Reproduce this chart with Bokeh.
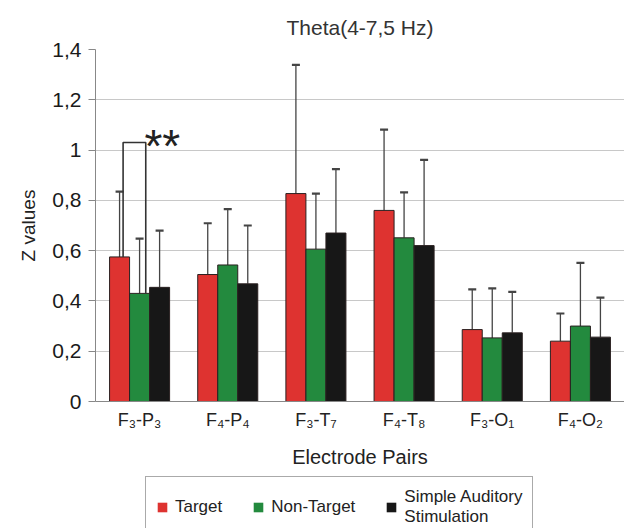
from bokeh.plotting import figure
from bokeh.layouts import column
from bokeh.models import (ColumnDataSource, FactorRange, Range1d, Whisker, TeeHead,
                          FixedTicker, CustomJSTickFormatter, Legend, LegendItem)
from bokeh.transform import dodge
from bokeh.core.properties import value
from bokeh.embed import file_html
from bokeh.resources import INLINE

# ---------------- data ----------------
pairs = ["F₃-P₃", "F₄-P₄", "F₃-T₇", "F₄-T₈", "F₃-O₁", "F₄-O₂"]
series_names = ["Target", "Non-Target", "Simple Auditory\nStimulation"]

target = [0.575, 0.505, 0.827, 0.760, 0.286, 0.240]
target_sd = [0.260, 0.204, 0.512, 0.321, 0.160, 0.110]
nontarget = [0.430, 0.543, 0.606, 0.651, 0.253, 0.300]
nontarget_sd = [0.218, 0.222, 0.221, 0.181, 0.197, 0.251]
simple = [0.454, 0.468, 0.670, 0.620, 0.273, 0.256]
simple_sd = [0.226, 0.232, 0.254, 0.341, 0.163, 0.157]

y_ticks = [0, 0.2, 0.4, 0.6, 0.8, 1.0, 1.2, 1.4]

# significance bracket (Target vs Non-Target at F3-P3)
sig_pair = "F₃-P₃"
sig_level = 1.03
sig_label = "**"

colors = ["#de3330", "#238a3e", "#171717"]
FONT = "Liberation Sans"

# ---------------- main chart ----------------
p = figure(width=624, height=470, x_range=FactorRange(*pairs),
           y_range=Range1d(0, 1.4), output_backend="svg", toolbar_location=None,
           min_border_left=95, min_border_right=0, min_border_top=49,
           min_border_bottom=66)
p.outline_line_color = None
p.background_fill_color = "white"
p.border_fill_color = "white"

p.title.text = "Theta(4-7,5 Hz)"
p.title.align = "center"
p.title.text_font = FONT
p.title.text_font_size = "21px"
p.title.text_font_style = "normal"
p.title.text_color = "#333333"
p.title.standoff = 22

bw = 0.227
offsets = [-bw, 0.0, bw]
means = [target, nontarget, simple]
sds = [target_sd, nontarget_sd, simple_sd]

for name, col, off, m, s in zip(series_names, colors, offsets, means, sds):
    src = ColumnDataSource(dict(cat=pairs, val=m,
                                top=[a + b for a, b in zip(m, s)]))
    p.vbar(x=dodge("cat", off, range=p.x_range), top="val", width=bw,
           source=src, fill_color=col, line_color="#2a2020", line_width=1)
    w = Whisker(base=dodge("cat", off, range=p.x_range), lower="val", upper="top",
                source=src, dimension="height", line_color="#444444", line_width=1.3,
                upper_head=TeeHead(size=8, line_color="#444444", line_width=2.2),
                lower_head=None)
    p.add_layout(w)

# significance bracket
i0 = pairs.index(sig_pair)
br = ColumnDataSource(dict(
    xs=[[(sig_pair, offsets[0] + 0.04), (sig_pair, offsets[0] + 0.04),
         (sig_pair, offsets[1] + 0.07), (sig_pair, offsets[1] + 0.07)]],
    ys=[[target[i0], sig_level, sig_level, nontarget[i0]]]))
p.multi_line(xs="xs", ys="ys", source=br, line_color="#333333", line_width=1.6)
p.text(x=[(sig_pair, offsets[1] + 0.055)], y=[sig_level], text=[sig_label],
       text_font=value(FONT), text_font_size="46px",
       text_baseline="middle", text_align="left", text_color="#222222",
       y_offset=3)

# axes
p.yaxis.ticker = FixedTicker(ticks=y_ticks)
p.yaxis.formatter = CustomJSTickFormatter(
    code="return (Math.round(tick*10)/10).toString().replace('.', ',');")
p.yaxis.axis_label = "Z values"
p.yaxis.axis_label_text_font = FONT
p.yaxis.axis_label_text_font_size = "19px"
p.yaxis.axis_label_text_font_style = "normal"
p.yaxis.axis_label_text_color = "#222222"
p.yaxis.axis_label_standoff = 10
p.yaxis.major_label_text_font = FONT
p.yaxis.major_label_text_font_size = "21px"
p.yaxis.major_label_text_color = "#1a1a1a"
p.yaxis.axis_line_color = "#888888"
p.yaxis.major_tick_line_color = "#888888"
p.yaxis.major_tick_out = 7
p.yaxis.major_tick_in = 0
p.yaxis.minor_tick_line_color = None
p.yaxis.major_label_standoff = 7

p.xaxis.axis_label = "Electrode Pairs"
p.xaxis.axis_label_text_font = FONT
p.xaxis.axis_label_text_font_size = "20px"
p.xaxis.axis_label_text_font_style = "normal"
p.xaxis.axis_label_text_color = "#222222"
p.xaxis.axis_label_standoff = 13
p.xaxis.major_label_text_font = FONT
p.xaxis.major_label_text_font_size = "18px"
p.xaxis.major_label_text_color = "#222222"
p.xaxis.axis_line_color = "#888888"
p.xaxis.major_tick_line_color = None
p.xaxis.major_label_standoff = 2

p.xgrid.grid_line_color = None
p.ygrid.grid_line_color = "#c8c8c8"
p.ygrid.grid_line_width = 1

# ---------------- legend strip ----------------
lg = figure(width=624, height=58, x_range=Range1d(0, 1), y_range=Range1d(0, 1),
            output_backend="svg", toolbar_location=None,
            x_axis_location=None, y_axis_location=None,
            min_border_left=95, min_border_right=0, min_border_top=2,
            min_border_bottom=0)
lg.outline_line_color = None
lg.xgrid.visible = False
lg.ygrid.visible = False

items = []
for name, col in zip(series_names, colors):
    r = lg.vbar(x=[float("nan")], top=[float("nan")], width=0.1,
                fill_color=col, line_color=None)
    items.append(LegendItem(label=name, renderers=[r]))

legend = Legend(items=items, orientation="horizontal", location=(50, -10),
                label_text_font=FONT, label_text_font_size="17px",
                label_text_color="#222222", label_text_line_height=1.1,
                glyph_width=12, glyph_height=12,
                spacing=30, label_standoff=7, padding=10, margin=0,
                border_line_color="#555555", border_line_width=1.5,
                background_fill_alpha=1.0)
lg.add_layout(legend, "center")

layout = column(p, lg, spacing=0)
open("out.html", "w").write(file_html(layout, INLINE))
